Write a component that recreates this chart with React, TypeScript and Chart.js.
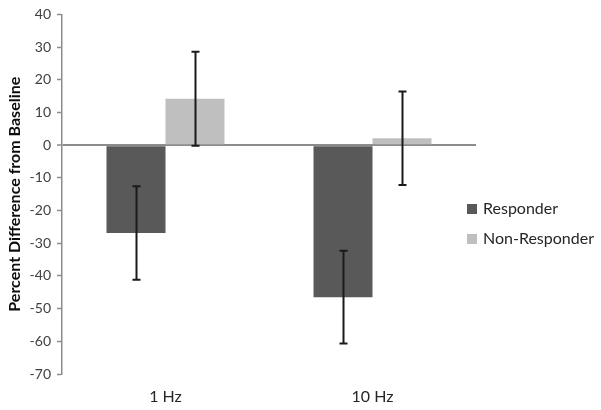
import React, { useEffect, useRef } from "react";
import { Chart, registerables } from "chart.js";

Chart.register(...registerables);

const categories = ["1 Hz", "10 Hz"];
const seriesNames = ["Responder", "Non-Responder"];
const responder = [-26.9, -46.5];
const nonResponder = [14.2, 2.1];
const responderErr = [14.3, 14.2];
const nonResponderErr = [14.4, 14.3];
const seriesColors = ["#595959", "#bfbfbf"];
const yMin = -70;
const yMax = 40;
const yStep = 10;

const FONT = "Lato, 'Open Sans', sans-serif";

const errorBarPlugin = {
  id: "errorBars",
  afterDatasetsDraw(chart: any) {
    const ctx = chart.ctx;
    const yScale = chart.scales.y;
    const errs = [responderErr, nonResponderErr];
    chart.data.datasets.forEach((ds: any, i: number) => {
      const meta = chart.getDatasetMeta(i);
      meta.data.forEach((bar: any, j: number) => {
        const v = ds.data[j];
        const e = errs[i][j];
        const x = Math.round(bar.x) + 0.5;
        const yt = yScale.getPixelForValue(v + e);
        const yb = yScale.getPixelForValue(v - e);
        ctx.save();
        ctx.strokeStyle = "#1a1a1a";
        ctx.lineWidth = 2;
        ctx.beginPath();
        ctx.moveTo(x, yt);
        ctx.lineTo(x, yb);
        ctx.moveTo(x - 4, yt);
        ctx.lineTo(x + 4, yt);
        ctx.moveTo(x - 4, yb);
        ctx.lineTo(x + 4, yb);
        ctx.stroke();
        ctx.restore();
      });
    });
  },
};

const legendPlugin = {
  id: "customLegend",
  afterDraw(chart: any) {
    const ctx = chart.ctx;
    const x0 = chart.chartArea.right - 9;
    const yStart = 209;
    const gap = 30;
    ctx.save();
    ctx.font = "16px " + FONT;
    ctx.textBaseline = "middle";
    chart.data.datasets.forEach((ds: any, i: number) => {
      const y = yStart + i * gap;
      ctx.fillStyle = ds.backgroundColor;
      ctx.fillRect(x0, y - 5, 10, 10);
      ctx.fillStyle = "#262626";
      ctx.fillText(ds.label, x0 + 16, y);
    });
    ctx.restore();
  },
};

export default function App() {
  const ref = useRef<HTMLCanvasElement>(null);
  useEffect(() => {
    if (!ref.current) return;
    const chart = new Chart(ref.current, {
      type: "bar",
      data: {
        labels: categories,
        datasets: [
          { label: seriesNames[0], data: responder, backgroundColor: seriesColors[0] },
          { label: seriesNames[1], data: nonResponder, backgroundColor: seriesColors[1] },
        ],
      },
      options: {
        responsive: false,
        animation: false,
        layout: { padding: { left: 0, right: 125, top: 11, bottom: 0 } },
        datasets: {
          bar: { categoryPercentage: 0.57, barPercentage: 1.0 },
        },
        plugins: {
          legend: { display: false },
          tooltip: { enabled: false },
        },
        scales: {
          x: {
            grid: { display: false },
            border: { display: false },
            ticks: { color: "#262626", font: { family: FONT, size: 16 }, padding: 5 },
            afterFit: (s: any) => {
              s.height = 36;
            },
          },
          y: {
            min: yMin,
            max: yMax,
            ticks: {
              stepSize: yStep,
              color: "#404040",
              font: { family: FONT, size: 14 },
              padding: 6,
            },
            grid: {
              drawOnChartArea: true,
              drawTicks: true,
              tickLength: 5,
              color: (c: any) => (c.tick && c.tick.value === 0 ? "#8c8c8c" : "rgba(0,0,0,0)"),
              lineWidth: (c: any) => (c.tick && c.tick.value === 0 ? 2 : 1),
              tickColor: "#8c8c8c",
              tickWidth: 1.5,
            },
            border: { color: "#8c8c8c", width: 1.5 },
            title: {
              display: true,
              text: "Percent Difference from Baseline",
              color: "#0d0d0d",
              font: { family: FONT, size: 16, weight: "bold" },
              padding: { top: 5, bottom: 0 },
            },
            afterFit: (s: any) => {
              s.width = 62;
            },
          },
        },
      },
      plugins: [errorBarPlugin, legendPlugin],
    });
    return () => chart.destroy();
  }, []);
  return (
    <div style={{ position: "absolute", left: 0, top: 0, width: 601, height: 410, background: "#fff" }}>
      <canvas ref={ref} width={601} height={410} />
    </div>
  );
}
